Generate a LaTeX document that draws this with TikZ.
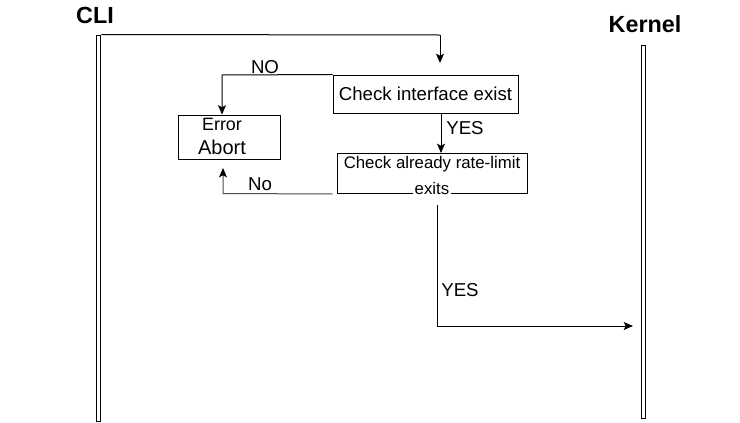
\documentclass[tikz,border=0pt]{standalone}
\usepackage{fontspec}
\setmainfont{Liberation Sans}
\usetikzlibrary{arrows.meta}
\tikzset{
  lifeline/.style={draw, inner sep=0pt, minimum width=3.5pt},
  box/.style={draw, inner sep=0pt},
  lbl/.style={inner sep=0pt, font=\fontsize{14}{16}\selectfont},
  head/.style={inner sep=0pt, font=\fontsize{17.5}{20}\selectfont\bfseries},
  arr/.style={-{Stealth[length=7pt,width=6pt,inset=1.5pt,color=black]}},
}
\begin{document}
\begin{tikzpicture}[x=0.75pt,y=-0.75pt,line width=0.75pt]
  \useasboundingbox (0,0) rectangle (740,422);
  % lifelines
  \node[lifeline, minimum height=386*0.75pt] (cli) at (98.5,228) {};
  \node[lifeline, minimum height=373*0.75pt, minimum width=3pt] (kernel) at (643,231.5) {};
  \node[head] (clit) at (95,15) {CLI};
  \node[head] (kernelt) at (645,24) {Kernel};
  % boxes
  \node[box, minimum width=185*0.75pt, minimum height=38*0.75pt] (iface) at (425.5,94)
    {\fontsize{14}{16}\selectfont Check interface exist};
  \node[box, minimum width=102*0.75pt, minimum height=44*0.75pt] (err) at (229,137) {};
  \node[inner sep=0pt, font=\fontsize{13.4}{15}\selectfont] (errt) at (222,124) {Error};
  \node[inner sep=0pt, font=\fontsize{15}{17}\selectfont] (abort) at (222,147) {Abort};
  \node[box, minimum width=190*0.75pt, minimum height=40*0.75pt] (rate) at (432,173) {};
  \node[inner sep=0pt, font=\fontsize{12.6}{15}\selectfont] (ratet) at (432,164) {Check already rate-limit};
  \node[inner sep=1pt, fill=white, font=\fontsize{12.6}{15}\selectfont] (exits) at (432,188) {exits};
  % free ends
  \coordinate (c1) at (440,35);
  \coordinate (c2) at (440,63);
  \coordinate (c3) at (222,75);
  \coordinate (c4) at (223,193.5);
  \coordinate (c5) at (223,168);
  \coordinate (c6) at (437,205);
  \coordinate (c7) at (437,326);
  \coordinate (c8) at (633,326);
  % connectors
  \draw (cli.north east) -- (c1);
  \draw[arr] (c1) -- (c2);
  \draw[arr] (iface.north west) -- (c3) -- (err.north -| c3);
  \draw[arr] (441,113) -- (441,153);
  \draw[arr, black!70] (rate.south west) ++(-4,0.5) -- (c4) -- (c5);
  \draw[arr] (c6) -- (c7) -- (c8);
  % labels
  \node[lbl] (no1) at (265,67) {NO};
  \node[lbl] (yes1) at (465,128) {YES};
  \node[lbl] (no2) at (260,184) {No};
  \node[lbl] (yes2) at (460,290) {YES};
\end{tikzpicture}
\end{document}
